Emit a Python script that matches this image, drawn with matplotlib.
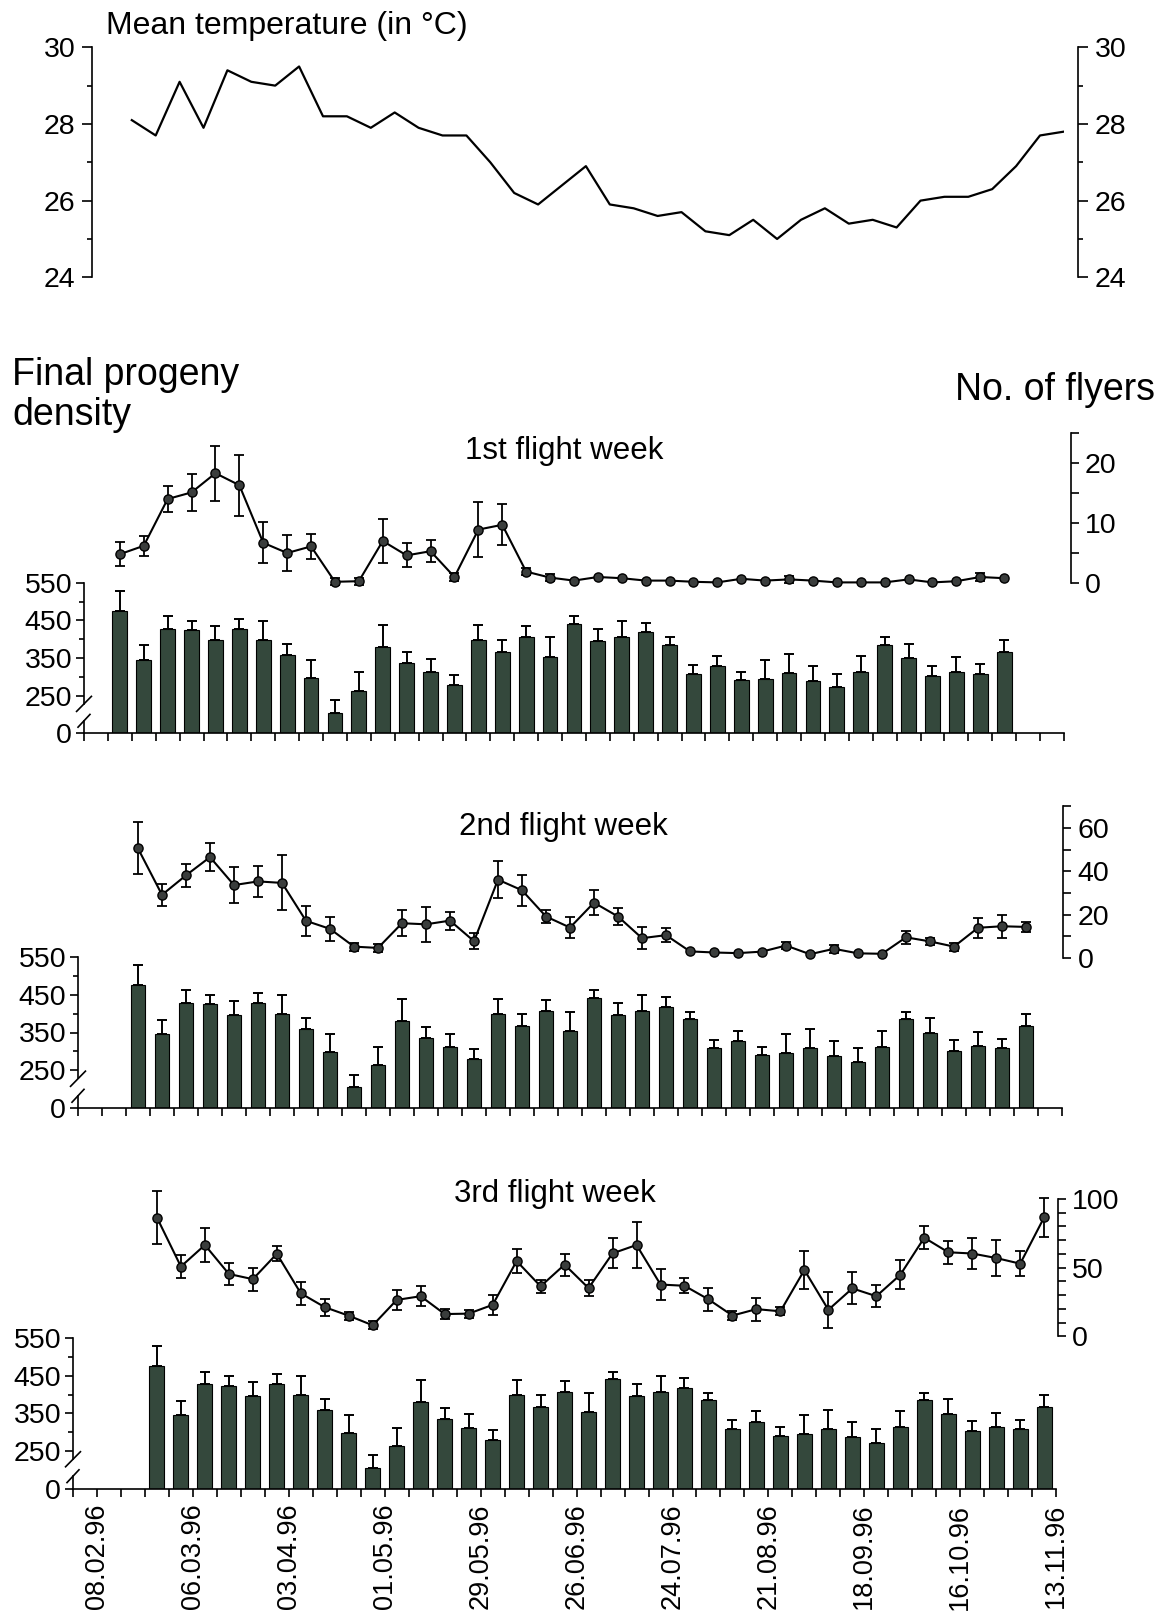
import numpy as np
import matplotlib
matplotlib.use('Agg')
import matplotlib.pyplot as plt

plt.rcParams['font.family'] = ['Liberation Sans', 'DejaVu Sans']
plt.rcParams['axes.linewidth'] = 1.2
plt.rcParams['xtick.major.width'] = 1.2
plt.rcParams['ytick.major.width'] = 1.2
plt.rcParams['xtick.minor.width'] = 1.2
plt.rcParams['ytick.minor.width'] = 1.2
plt.rcParams['xtick.direction'] = 'out'
plt.rcParams['ytick.direction'] = 'out'

# =============================== SETUP =============================== #

W_PX, H_PX = 1163, 1620
BAR_COLOR = '#34483c'
MARKER_COLOR = '#3a3d3c'
TICK_SIZE = 20.5

# weeks counted from 01.02.96 (week 0) to 13.11.96 (week 41)
date_labels = ['08.02.96', '06.03.96', '03.04.96', '01.05.96', '29.05.96', '26.06.96',
               '24.07.96', '21.08.96', '18.09.96', '16.10.96', '13.11.96']
date_weeks = [1, 5, 9, 13, 17, 21, 25, 29, 33, 37, 41]

# mean temperature, one value per week (weeks 2..41)
temp_weeks = list(range(2, 42))
temp_mean = [28.1, 27.7, 29.1, 27.9, 29.4, 29.1, 29.0, 29.5, 28.2, 28.2,
             27.9, 28.3, 27.9, 27.7, 27.7, 27.0, 26.2, 25.9, 26.4, 26.9,
             25.9, 25.8, 25.6, 25.7, 25.2, 25.1, 25.5, 25.0, 25.5, 25.8,
             25.4, 25.5, 25.3, 26.0, 26.1, 26.1, 26.3, 26.9, 27.7, 27.8]

# final progeny density (same series in every panel)
progeny = [476, 346, 427, 424, 397, 428, 399, 358, 298, 205,
           263, 380, 336, 312, 279, 399, 367, 407, 354, 440,
           395, 407, 418, 385, 308, 328, 291, 295, 309, 288,
           272, 313, 385, 349, 302, 314, 308, 367]
progeny_err = [53, 38, 34, 24, 37, 27, 49, 29, 47, 34,
               49, 58, 29, 35, 27, 40, 31, 28, 51, 21,
               33, 41, 25, 20, 23, 27, 22, 51, 51, 40,
               36, 42, 20, 39, 28, 38, 25, 31]

# number of flyers
flyers_1 = [4.8, 6.2, 14.0, 15.1, 18.3, 16.3, 6.7, 5.0, 6.1, 0.2,
            0.3, 7.0, 4.6, 5.3, 1.0, 8.9, 9.7, 1.9, 0.9, 0.4,
            1.0, 0.8, 0.4, 0.4, 0.2, 0.1, 0.7, 0.4, 0.6, 0.4,
            0.1, 0.1, 0.1, 0.6, 0.1, 0.3, 1.0, 0.8]
flyers_1_err = [2.0, 1.7, 2.1, 3.1, 4.6, 5.1, 3.4, 3.0, 2.1, 0.6,
                0.6, 3.7, 2.0, 1.8, 0.6, 4.6, 3.4, 0.6, 0.6, 0,
                0, 0, 0, 0, 0, 0, 0, 0, 0.6, 0,
                0, 0, 0, 0, 0, 0, 0.6, 0]

flyers_2 = [50.5, 29.1, 38.1, 46.5, 33.6, 35.3, 34.6, 17.1, 13.4, 5.2,
            4.6, 16.0, 15.5, 17.2, 7.7, 36.1, 31.2, 19.1, 14.0, 25.5,
            19.1, 9.1, 10.5, 3.0, 2.5, 2.2, 2.9, 5.7, 1.7, 4.2,
            2.1, 1.9, 9.5, 7.6, 5.2, 13.9, 14.6, 14.3]
flyers_2_err = [12.0, 5.2, 5.4, 6.4, 8.3, 7.2, 12.7, 6.9, 5.6, 1.8,
                1.8, 5.9, 8.1, 4.2, 3.6, 8.4, 7.1, 2.8, 4.9, 5.8,
                3.7, 5.1, 3.1, 0, 0, 0, 0, 1.8, 0, 1.8,
                0, 0, 2.9, 1.8, 1.8, 4.6, 5.2, 2.2]

flyers_3 = [86.5, 50.8, 66.5, 45.4, 41.6, 60.1, 31.3, 21.2, 15.0, 8.0,
            26.5, 29.2, 16.2, 16.5, 22.9, 54.8, 36.4, 52.2, 35.1, 60.4,
            66.5, 37.7, 36.8, 26.9, 15.1, 19.8, 18.2, 48.3, 19.3, 34.9,
            29.2, 44.8, 71.8, 61.2, 60.3, 57.0, 52.9, 86.7]
flyers_3_err = [19.0, 8.7, 12.2, 8.0, 8.5, 5.6, 8.5, 6.3, 3.0, 3.0,
                7.5, 7.3, 3.6, 3.0, 7.3, 8.5, 4.9, 8.0, 6.0, 11.0,
                17.0, 11.6, 5.6, 8.5, 3.0, 8.3, 3.0, 13.7, 12.9, 11.7,
                8.0, 10.7, 8.3, 8.2, 11.4, 13.0, 9.2, 14.3]

# panel geometry in pixels of the output image
panels = [
    dict(title='1st flight week', title_xy=(564, 451), x0=84, wk=23.9, y550=582.9, y150=733.2,
         fly_top=433, fly_bot=583, fly_max=25, fly_ticks=[0, 5, 10, 15, 20, 25],
         fly_labels=['0', '', '10', '', '20', ''], spine=41.28, start=1.5),
    dict(title='2nd flight week', title_xy=(563, 827), x0=78, wk=24.0, y550=956.7, y150=1108.3,
         fly_top=806.2, fly_bot=957.9, fly_max=70, fly_ticks=list(range(0, 71, 10)),
         fly_labels=['0', '', '20', '', '40', '', '60', ''], spine=41.05, start=2.5),
    dict(title='3rd flight week', title_xy=(555, 1194), x0=73, wk=23.98, y550=1338.1, y150=1488.6,
         fly_top=1199.0, fly_bot=1336.3, fly_max=100, fly_ticks=list(range(0, 101, 10)),
         fly_labels=['0', '', '', '', '', '50', '', '', '', '', '100'], spine=41.07, start=3.5),
]

# ============================= UTILITIES ============================= #

def px_box(left, top, right, bottom):
    return [left / W_PX, 1 - bottom / H_PX, (right - left) / W_PX, (bottom - top) / H_PX]


def draw_temperature(fig):
    x0, wk = 84, 23.9
    tx = fig.add_axes(px_box(x0, 47.3, x0 + 41 * wk, 277.3))
    tx.set_xlim(0, 41)
    tx.set_ylim(24, 30)
    tx.patch.set_visible(False)
    tx.plot(temp_weeks, temp_mean, color='black', lw=1.6)
    tx.spines['top'].set_visible(False)
    tx.spines['bottom'].set_visible(False)
    tx.spines['left'].set_position(('data', (92 - x0) / wk))
    tx.spines['right'].set_position(('data', (1078 - x0) / wk))
    tx.set_xticks([])
    tx.set_yticks([24, 26, 28, 30])
    tx.set_yticks([25, 27, 29], minor=True)
    tx.tick_params(axis='y', which='both', left=True, right=True,
                   labelleft=True, labelright=True, labelsize=TICK_SIZE)
    tx.tick_params(axis='y', which='major', length=7.5, pad=4.5)
    tx.tick_params(axis='y', which='minor', length=3.6)
    fig.text(106 / W_PX, 1 - 26 / H_PX, 'Mean temperature (in °C)', fontsize=23, va='center')


def draw_panel(fig, p, fly, fly_err, last=False):
    right = p['x0'] + 41 * p['wk']
    weeks = np.arange(len(progeny)) + p['start']

    # progeny bars, broken axis: the baseline stands for 0
    ax = fig.add_axes(px_box(p['x0'], p['y550'], right, p['y150']))
    ax.set_xlim(0, 41)
    ax.set_ylim(150, 550)
    ax.bar(weeks, np.array(progeny) - 150, bottom=150, width=0.62, color=BAR_COLOR,
           edgecolor='black', linewidth=0.8, zorder=2)
    ax.errorbar(weeks, progeny, yerr=[np.zeros(len(progeny)), progeny_err], fmt='none',
                ecolor='black', elinewidth=1.4, capsize=3.6, capthick=1.4, zorder=3)
    ax.spines['top'].set_visible(False)
    ax.spines['right'].set_visible(False)
    ax.spines['left'].set_bounds(229, 550)
    ax.plot([0, 0], [150, 183], color='black', lw=1.2, clip_on=False)
    ax.plot([-0.31, 0.31], [208, 248], color='black', lw=1.2, clip_on=False)
    ax.plot([-0.25, 0.25], [166, 200], color='black', lw=1.2, clip_on=False)
    ax.set_yticks([150, 250, 350, 450, 550], ['0', '250', '350', '450', '550'])
    ax.set_yticks([300, 400, 500], minor=True)
    ax.tick_params(axis='y', which='major', length=6, pad=2.5, labelsize=TICK_SIZE)
    ax.tick_params(axis='y', which='minor', length=3.6)
    if last:
        ax.set_xticks(date_weeks, date_labels, rotation=90, fontsize=19.5)
        ax.set_xticks(range(42), minor=True)
        ax.tick_params(axis='x', which='both', length=5.8, pad=5)
    else:
        ax.set_xticks(range(42), ['' for _ in range(42)])
        ax.tick_params(axis='x', length=5.8)

    # flyers, right axis
    fx = fig.add_axes(px_box(p['x0'], p['fly_top'], right, p['fly_bot']))
    fx.set_xlim(0, 41)
    fx.set_ylim(0, p['fly_max'])
    fx.patch.set_visible(False)
    for s in ['left', 'top', 'bottom']:
        fx.spines[s].set_visible(False)
    fx.spines['right'].set_position(('data', p['spine']))
    fx.yaxis.tick_right()
    fx.set_xticks([])
    fx.set_yticks(p['fly_ticks'], p['fly_labels'])
    fx.tick_params(axis='y', length=5.8, pad=4.5, labelsize=TICK_SIZE)
    fly = np.array(fly)
    err = np.array(fly_err)
    has = err > 0
    fx.errorbar(weeks[has], fly[has], yerr=err[has], fmt='none', ecolor='black',
                elinewidth=1.3, capsize=3.6, capthick=1.3, zorder=2, clip_on=False)
    fx.plot(weeks, fly, color='black', lw=1.5, marker='o', ms=6.6, mfc=MARKER_COLOR,
            mec='black', mew=1, zorder=3, clip_on=False)

    fig.text(p['title_xy'][0] / W_PX, 1 - p['title_xy'][1] / H_PX, p['title'],
             fontsize=22.5, ha='center', va='center')


if __name__ == '__main__':
    fig = plt.figure(figsize=(W_PX / 100, H_PX / 100), dpi=100)
    draw_temperature(fig)
    fig.text(12 / W_PX, 1 - 357 / H_PX, 'Final progeny\ndensity', fontsize=27, va='top',
             linespacing=1.15)
    fig.text(1155 / W_PX, 1 - 390 / H_PX, 'No. of flyers', fontsize=27, ha='right', va='center')
    series = [(flyers_1, flyers_1_err), (flyers_2, flyers_2_err), (flyers_3, flyers_3_err)]
    for i, p in enumerate(panels):
        draw_panel(fig, p, series[i][0], series[i][1], last=(i == 2))
    fig.savefig('out.png', dpi=100)
